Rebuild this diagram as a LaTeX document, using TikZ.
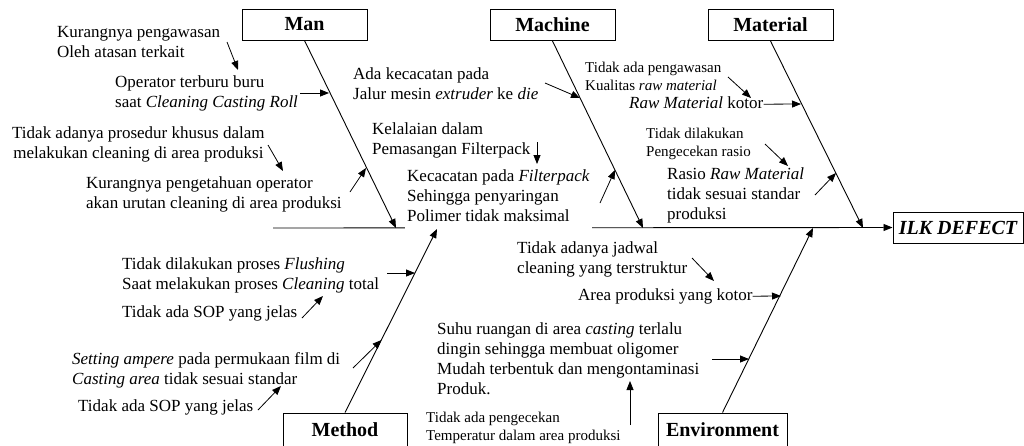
\documentclass[tikz,border=0pt]{standalone}
\usepackage{fontspec}
\setmainfont{Liberation Serif}
\usetikzlibrary{arrows.meta}
\begin{document}
\begin{tikzpicture}[x=1pt,y=-1pt,
  bone/.style={line width=0.9pt, -{Triangle[length=9pt,width=7pt]}},
  cause/.style={line width=0.8pt, -{Triangle[length=9pt,width=7pt]}},
  catbox/.style={draw, line width=1pt, minimum height=31pt, inner sep=0pt, font=\fontsize{20}{24}\selectfont\bfseries},
  txt/.style={anchor=north west, inner sep=0pt, align=left, font=\fontsize{17}{20}\selectfont},
  smalltxt/.style={anchor=north west, inner sep=0pt, align=left, font=\fontsize{15}{18}\selectfont}]
\useasboundingbox[fill=white] (0,0) rectangle (1024,445);

% category boxes
\node[catbox, minimum width=125pt] (man) at (304.5,24.5) {Man};
\node[catbox, minimum width=125pt] (machine) at (552.5,25) {Machine};
\node[catbox, minimum width=125pt] (material) at (770.5,25) {Material};
\node[catbox, minimum width=124pt, minimum height=34pt] (method) at (345,430) {Method};
\node[catbox, minimum width=129pt, minimum height=34pt] (environment) at (722.5,430) {Environment};
\node[catbox, minimum width=130pt, font=\fontsize{20}{24}\selectfont\bfseries\itshape] (ilk) at (958,227.5) {ILK DEFECT};

% spine
\coordinate (spinestart) at (273,228);
\draw[bone] (spinestart) -- (ilk.west);

% joints on spine
\coordinate (jman) at (396,228);
\coordinate (jmach) at (643,228);
\coordinate (jmat) at (863,228);
\coordinate (jmeth) at (437,229);
\coordinate (jenv) at (813,228);

% texts
\node[txt] (t1) at (57,23) {\strut Kurangnya pengawasan\\Oleh atasan terkait};
\node[txt] (t2) at (115,73) {\strut Operator terburu buru\\saat \textit{Cleaning Casting Roll}};
\node[txt, align=center] (t3) at (12,124) {\strut Tidak adanya prosedur khusus dalam\\melakukan cleaning di area produksi};
\node[txt] (t4) at (86,174) {\strut Kurangnya pengetahuan operator\\akan urutan cleaning di area produksi};
\node[txt] (t5) at (353,65) {\strut Ada kecacatan pada\\Jalur mesin \textit{extruder} ke \textit{die}};
\node[txt] (t6) at (372,120) {\strut Kelalaian dalam\\Pemasangan Filterpack};
\node[txt, fill=white, inner xsep=2pt] (t7) at (405,167) {\strut Kecacatan pada \textit{Filterpack}\\Sehingga penyaringan\\Polimer tidak maksimal\rule[-12pt]{0pt}{0pt}};
\node[smalltxt] (t8) at (585,59.4) {\strut Tidak ada pengawasan\\Kualitas \textit{raw material}};
\node[txt] (t9) at (629,94) {\strut \textit{Raw Material} kotor};
\node[smalltxt] (t10) at (646,125.4) {\strut Tidak dilakukan\\Pengecekan rasio};
\node[txt] (t11) at (667,165) {\strut Rasio \textit{Raw Material}\\tidak sesuai standar\\produksi};
\node[txt] (t12) at (122,255) {\strut Tidak dilakukan proses \textit{Flushing}\\Saat melakukan proses \textit{Cleaning} total};
\node[txt] (t13) at (122,303) {\strut Tidak ada SOP yang jelas};
\node[txt] (t14) at (72,350) {\strut \textit{Setting ampere} pada permukaan film di\\\textit{Casting area} tidak sesuai standar};
\node[txt] (t15) at (78,397) {\strut Tidak ada SOP yang jelas};
\node[txt] (t16) at (517,239) {\strut Tidak adanya jadwal\\cleaning yang terstruktur};
\node[txt] (t17) at (578,286) {\strut Area produksi yang kotor};
\node[txt] (t18) at (437,320) {\strut Suhu ruangan di area \textit{casting} terlalu\\dingin sehingga membuat oligomer\\Mudah terbentuk dan mengontaminasi\\Produk.};
\node[smalltxt] (t19) at (426,409.4) {\strut Tidak ada pengecekan\\Temperatur dalam area produksi};

% main bones
\draw[bone] (man.south) -- (jman);
\draw[bone] (machine.south) -- (jmach);
\draw[bone] (material.south) -- (jmat);
\draw[bone] (method.north) -- (jmeth);
\draw[bone] (environment.north) -- (jenv);

% cause arrows
\coordinate (a1s) at (227,42);  \coordinate (a1e) at (238,70);
\coordinate (a2s) at (300,93);  \coordinate (a2e) at (329,93);
\coordinate (a3s) at (268,145); \coordinate (a3e) at (283,171);
\coordinate (a4s) at (350,192); \coordinate (a4e) at (366,168);
\coordinate (a5s) at (545,83);  \coordinate (a5e) at (580,98);
\coordinate (a6s) at (537,142); \coordinate (a6e) at (537,164);
\coordinate (a7s) at (600,203); \coordinate (a7e) at (615,170);
\coordinate (a8s) at (728,77);  \coordinate (a8e) at (751,98);
\coordinate (a9e) at (801,104);
\coordinate (a10s) at (765,144); \coordinate (a10e) at (788,166);
\coordinate (a11s) at (815,195); \coordinate (a11e) at (836,173);
\coordinate (a12s) at (387,273); \coordinate (a12e) at (415,273);
\coordinate (a13s) at (302,318); \coordinate (a13e) at (323,296);
\coordinate (a14s) at (353,368); \coordinate (a14e) at (381.5,340);
\coordinate (a15s) at (258,410); \coordinate (a15e) at (281,386);
\coordinate (a16s) at (692,258); \coordinate (a16e) at (714,281);
\coordinate (a17e) at (781,296);
\coordinate (a18s) at (712,359); \coordinate (a18e) at (749,359);
\coordinate (a19s) at (630,425); \coordinate (a19e) at (630,381);

\draw[cause] (a1s) -- (a1e);
\draw[cause] (a2s) -- (a2e);
\draw[cause] (a3s) -- (a3e);
\draw[cause] (a4s) -- (a4e);
\draw[cause] (a5s) -- (a5e);
\draw[cause] (a6s) -- (a6e);
\draw[cause] (a7s) -- (a7e);
\draw[cause] (a8s) -- (a8e);
\draw[cause] (t9.east) -- (a9e);
\draw[cause] (a10s) -- (a10e);
\draw[cause] (a11s) -- (a11e);
\draw[cause] (a12s) -- (a12e);
\draw[cause] (a13s) -- (a13e);
\draw[cause] (a14s) -- (a14e);
\draw[cause] (a15s) -- (a15e);
\draw[cause] (a16s) -- (a16e);
\draw[cause] (t17.east) -- (a17e);
\draw[cause] (a18s) -- (a18e);
\draw[cause] (a19s) -- (a19e);
\end{tikzpicture}
\end{document}
